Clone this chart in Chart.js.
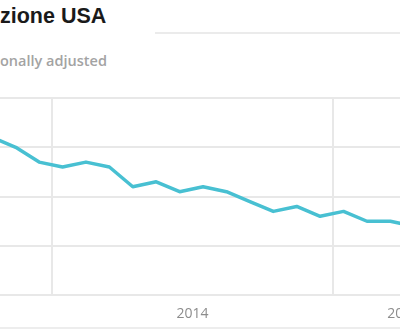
<!DOCTYPE html>
<html>
<head>
<meta charset="utf-8">
<script src="https://cdn.jsdelivr.net/npm/chart.js@4.4.1/dist/chart.umd.min.js"></script>
<style>
  body { margin: 0; width: 400px; height: 334px; overflow: hidden; position: relative; background: #fff; }
  .title { position: absolute; left: 0; top: 6px; font: bold 21.5px/21.5px "Liberation Sans", Arial, sans-serif; color: #1a1a1a; white-space: nowrap; }
  .sub { position: absolute; left: 0; top: 53px; font: 600 14.5px/15px "Open Sans", sans-serif; color: #a3a3a3; white-space: nowrap; }
  .rule { position: absolute; left: 155px; right: 0; top: 32px; height: 2px; background: #ebebeb; }
  .base { position: absolute; left: 0; right: 0; top: 327px; height: 2px; background: #ededed; }
  #chart { position: absolute; left: -40px; top: 0; }
</style>
</head>
<body>
<div class="title">zione USA</div>
<div class="rule"></div>
<div class="sub">onally adjusted</div>
<canvas id="chart" width="520" height="334"></canvas>
<div class="base"></div>
<script>
// monthly unemployment rate, %
let months = ['2013-10', '2013-11', '2013-12',
    '2014-01', '2014-02', '2014-03', '2014-04', '2014-05', '2014-06',
    '2014-07', '2014-08', '2014-09', '2014-10', '2014-11', '2014-12',
    '2015-01', '2015-02', '2015-03', '2015-04'];
let unemploymentRate = [7.2, 7.0, 6.7,
    6.6, 6.7, 6.6, 6.2, 6.3, 6.1,
    6.2, 6.1, 5.9, 5.7, 5.8, 5.6,
    5.7, 5.5, 5.5, 5.4];

// x axis runs in months counted from Jan 2014
let yearStarts = [0, 12];
let yearLabels = ['2014', '2015'];
let yearLabelMonths = [6, 15];

function monthIndex(str) {
    let [y, m] = str.split('-').map(Number);
    return (y - 2014) * 12 + (m - 1) + 0.45; // plotted mid-month
}

let points = months.map((m, i) => ({ x: monthIndex(m), y: unemploymentRate[i] }));

let ctx = document.getElementById('chart');
let chart = new Chart(ctx, {
    type: 'line',
    data: {
        datasets: [
            {
                label: 'Unemployment rate',
                data: points,
                borderColor: '#48c0d2',
                borderWidth: 3.5,
                borderJoinStyle: 'round',
                pointRadius: 0,
                tension: 0,
                fill: false
            }
        ]
    },
    options: {
        responsive: false,
        animation: false,
        layout: { padding: { top: 98, bottom: 2, left: 0, right: 0 } },
        plugins: {
            legend: { display: false },
            tooltip: { enabled: false }
        },
        scales: {
            x: {
                type: 'linear',
                min: -3.929,
                max: 18.277,
                afterBuildTicks: axis => {
                    axis.ticks = [...yearStarts, ...yearLabelMonths]
                        .sort((a, b) => a - b)
                        .map(v => ({ value: v }));
                },
                ticks: {
                    autoSkip: false,
                    maxRotation: 0,
                    padding: 10,
                    color: '#8c8c8c',
                    font: { family: 'Open Sans', size: 14 },
                    callback: value => {
                        let i = yearLabelMonths.indexOf(value);
                        return i >= 0 ? yearLabels[i] : '';
                    }
                },
                grid: {
                    drawTicks: false,
                    lineWidth: 2,
                    color: c => (c.tick && yearStarts.includes(c.tick.value)) ? '#e8e8e8' : 'rgba(0,0,0,0)'
                },
                border: { display: false }
            },
            y: {
                min: 4,
                max: 8,
                ticks: { display: false, stepSize: 1 },
                grid: { drawTicks: false, lineWidth: 2, color: '#e8e8e8' },
                border: { display: false }
            }
        }
    }
});
</script>
</body>
</html>
